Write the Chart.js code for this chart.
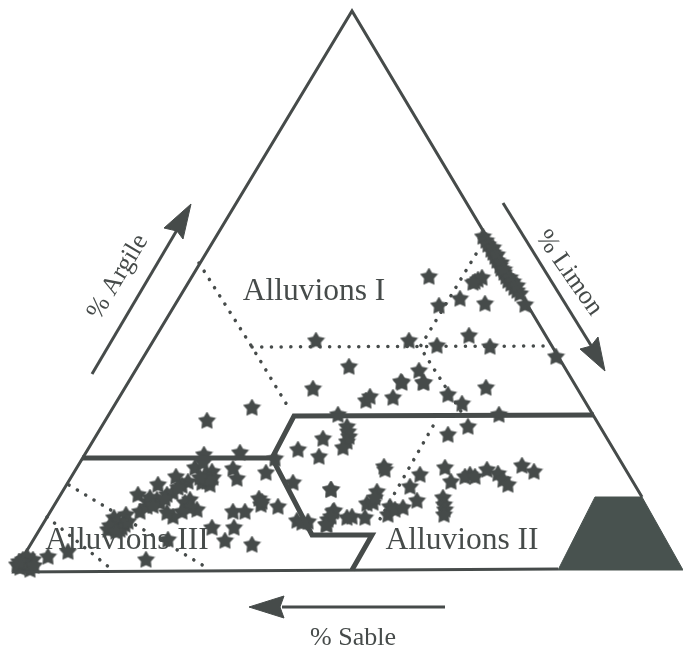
<!DOCTYPE html>
<html>
<head>
<meta charset="utf-8">
<title>Triangle textural</title>
<script src="https://cdn.jsdelivr.net/npm/chart.js@4/dist/chart.umd.min.js"></script>
<style>
  html, body { margin: 0; padding: 0; background: #fff; }
  #wrap { width: 683px; height: 652px; }
</style>
</head>
<body>
<div id="wrap"><canvas id="chart" width="683" height="652"></canvas></div>
<script>
// all values are in picture units (y grows downward)
const starX = [
  207, 252, 204, 240, 275, 195, 203, 233, 237, 266, 212, 207, 213, 202, 210,
  176, 188, 182, 158, 138, 167, 157, 148, 140, 147, 160, 173,
  190, 185, 197, 190, 182, 173, 167,
  114, 126, 108, 117, 125, 120, 113,
  233, 245, 259, 261, 278, 293, 212, 234, 225, 252, 168, 146, 68, 48,
  28, 20, 30, 23, 33, 17, 27,
  297, 308, 302, 298, 323, 319, 331, 333, 328, 327, 338,
  313, 366, 370, 393, 402, 423, 448, 462, 486, 499, 468, 448,
  347, 348, 349, 347, 343,
  384, 385, 420, 410, 417, 445, 451, 470, 465, 475, 487, 498, 503, 508, 522, 534,
  443, 444, 445, 444, 331, 377, 367, 373, 375, 390, 388, 395, 403, 334, 331, 326, 352, 365, 347,
  483, 486, 488, 491, 493, 495, 497, 500, 501, 504, 506, 508, 511, 514, 517, 520, 493, 497, 501, 504, 510, 513, 517,
  525, 485, 460, 439, 429, 478, 475, 482, 473,
  316, 409, 437, 469, 490, 556, 349, 419, 401, 424, 262,
  24, 29, 22, 34, 19, 118, 122, 110, 128, 116, 205, 209, 200, 150, 153, 165, 178
];
const starY = [
  421, 408, 455, 453, 459, 468, 463, 469, 479, 473, 472, 482, 478, 483, 485,
  477, 482, 486, 485, 495, 495, 500, 502, 512, 507, 503, 493,
  500, 503, 510, 508, 512, 517, 513,
  518, 515, 530, 527, 525, 530, 528,
  512, 512, 499, 505, 507, 483, 528, 528, 541, 545, 540, 560, 552, 557,
  563, 568, 570, 560, 560, 565, 557,
  521, 522, 523, 450, 439, 457, 490, 512, 520, 525, 415,
  389, 401, 397, 398, 383, 383, 395, 404, 388, 415, 427, 435,
  427, 432, 437, 442, 448,
  467, 470, 475, 487, 501, 468, 482, 475, 477, 477, 470, 474, 480, 485, 466, 472,
  498, 505, 510, 515, 490, 492, 504, 503, 498, 507, 515, 510, 508, 511, 517, 525, 517, 518, 518,
  237, 241, 245, 250, 253, 257, 261, 266, 269, 273, 277, 281, 284, 288, 291, 294, 248, 255, 263, 270, 278, 282, 286,
  305, 304, 299, 306, 277, 280, 282, 278, 283,
  341, 341, 346, 336, 347, 357, 367, 371, 382, 383, 502,
  565, 566, 563, 566, 562, 522, 528, 526, 522, 532, 476, 480, 478, 498, 506, 499, 488
];

// triangle outline and the class limits
const triangleX = [558, 14, 352, 642];
const triangleY = [569, 572, 11, 497];
const limitTopX = [594, 294, 272, 312, 372, 352];
const limitTopY = [415, 416, 458, 535, 535, 570];
const limitLeftX = [82, 272];
const limitLeftY = [458, 458];

// dotted sub-class limits
const dotted = [
  { x: [199, 252, 290], y: [263, 347, 410] },
  { x: [252, 552], y: [347, 346] },
  { x: [476, 420, 464], y: [254, 347, 416] },
  { x: [433, 376], y: [426, 526] },
  { x: [69, 204], y: [485, 566] },
  { x: [47, 110], y: [517, 568] }
];

// arrows: shaft then head
const shaftX = [[92, 177], [503, 592], [445, 282]];
const shaftY = [[374, 230], [203, 347], [607, 607]];
const headX = [[191, 164, 177, 183, 191], [605, 580, 591, 598, 605], [249, 284, 280, 284, 249]];
const headY = [[204, 228, 231, 239, 204], [371, 349, 346, 337, 371], [607, 596, 607, 618, 607]];

// dark block at the bottom right corner
const blockX = [595, 642, 683, 558, 595];
const blockY = [497, 497, 570, 570, 497];

const labelText = ['Alluvions I', 'Alluvions II', 'Alluvions III', '% Argile', '% Limon', '% Sable'];
const labelX = [314, 462, 127, 118, 569, 353];
const labelY = [292, 541, 541, 277, 273, 638];
const labelAngle = [0, 0, 0, -59, 55, 0];

const INK = '#464b4a';

function zip(xs, ys) {
  return xs.map((x, i) => ({ x: x, y: ys[i] }));
}

function lineSet(xs, ys, width) {
  return { data: zip(xs, ys), borderColor: INK, borderWidth: width, pointRadius: 0, fill: false, tension: 0, showLine: true, borderJoinStyle: 'miter' };
}

function shapeSet(xs, ys, color) {
  return { data: zip(xs, ys), borderColor: color, backgroundColor: color, borderWidth: 1, pointRadius: 0, fill: 'shape', tension: 0, showLine: true };
}

// filled five branch star, chart.js' own 'star' is only strokes
function makeStar(size) {
  const c = document.createElement('canvas');
  c.width = size;
  c.height = size;
  const g = c.getContext('2d');
  const r = size / 2;
  g.fillStyle = INK;
  g.beginPath();
  for (let i = 0; i < 10; i++) {
    const rad = i % 2 === 0 ? r : r * 0.55;
    const a = -Math.PI / 2 + i * Math.PI / 5;
    g.lineTo(r + rad * Math.cos(a), r + rad * Math.sin(a));
  }
  g.closePath();
  g.fill();
  return c;
}

const labelsPlugin = {
  id: 'labels',
  afterDatasetsDraw(chart) {
    const ctx = chart.ctx;
    ctx.save();
    ctx.fillStyle = INK;
    ctx.textAlign = 'center';
    ctx.textBaseline = 'middle';
    labelText.forEach((t, i) => {
      ctx.save();
      ctx.translate(chart.scales.x.getPixelForValue(labelX[i]), chart.scales.y.getPixelForValue(labelY[i]));
      ctx.rotate(labelAngle[i] * Math.PI / 180);
      ctx.font = i > 2 ? '26px "Liberation Serif"' : '31.5px "Liberation Serif"';
      ctx.fillText(t, 0, 0);
      ctx.restore();
    });
    ctx.restore();
  }
};

const datasets = [
  lineSet(triangleX, triangleY, 3),
  lineSet(limitTopX, limitTopY, 5),
  lineSet(limitLeftX, limitLeftY, 5)
];

dotted.forEach(d => {
  const s = lineSet(d.x, d.y, 3.5);
  s.borderDash = [0.1, 9.6];
  s.borderCapStyle = 'round';
  datasets.push(s);
});

shaftX.forEach((xs, i) => {
  datasets.push(lineSet(xs, shaftY[i], 3));
  datasets.push(shapeSet(headX[i], headY[i], INK));
});

datasets.push(shapeSet(blockX, blockY, '#48524f'));

datasets.push({
  data: zip(starX, starY),
  pointStyle: makeStar(19),
  pointRadius: 10,
  showLine: false
});

new Chart(document.getElementById('chart'), {
  type: 'scatter',
  data: { datasets: datasets },
  plugins: [labelsPlugin],
  options: {
    responsive: false,
    animation: false,
    layout: { padding: 0, autoPadding: false },
    plugins: { legend: { display: false }, tooltip: { enabled: false } },
    scales: {
      x: { type: 'linear', min: 0, max: 683, display: false },
      y: { type: 'linear', min: 0, max: 652, reverse: true, display: false }
    }
  }
});
</script>
</body>
</html>
